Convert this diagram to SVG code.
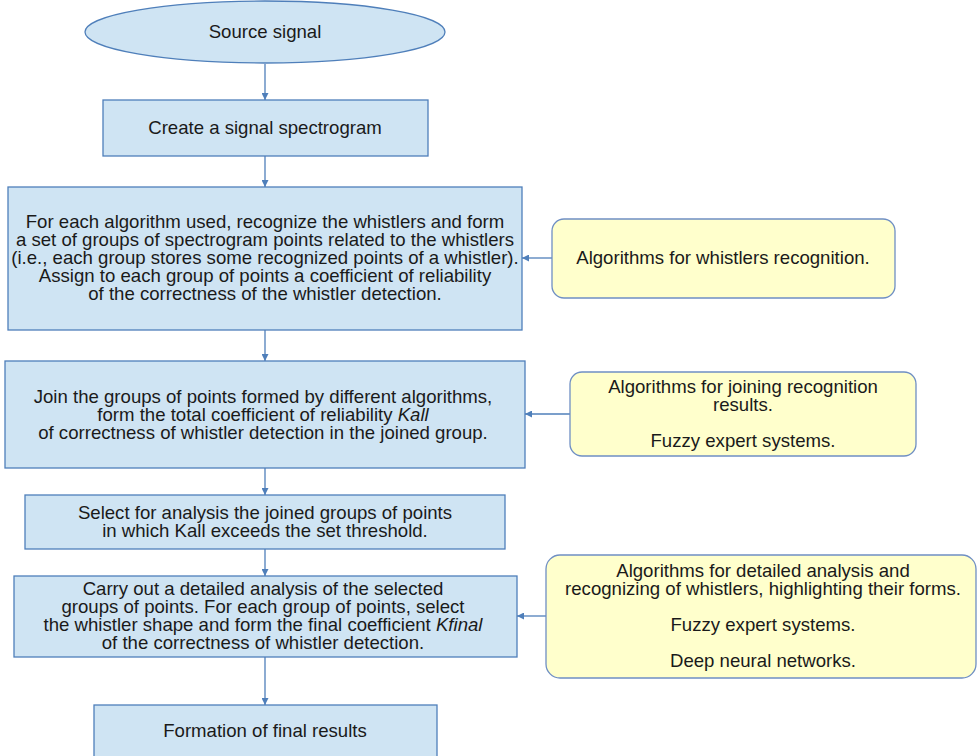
<svg xmlns="http://www.w3.org/2000/svg" width="977" height="756" viewBox="0 0 977 756">
<style>
.b{fill:#cfe4f3;stroke:#4f7fba;stroke-width:1.3}
.y{fill:#ffffcc;stroke:#6f8fc4;stroke-width:1.3}
text{font-family:"Liberation Sans",Arial,sans-serif;font-size:18.6px;fill:#1a1a1a;text-anchor:middle;dominant-baseline:central}
.c{stroke:#4f7fba;stroke-width:1.3;fill:none;marker-end:url(#a)}
</style>
<defs>
<marker id="a" viewBox="0 0 8 8" refX="8" refY="4" markerWidth="7" markerHeight="7" markerUnits="userSpaceOnUse" orient="auto">
<path d="M0,0 L8,4 L0,8 z" fill="#4f7fba"/>
</marker>
</defs>
<rect width="977" height="756" fill="#ffffff"/>
<g id="connectors">
<line class="c" x1="265" y1="64" x2="265" y2="100"/>
<line class="c" x1="265" y1="156" x2="265" y2="187"/>
<line class="c" x1="265" y1="330" x2="265" y2="361"/>
<line class="c" x1="265" y1="468" x2="265" y2="495"/>
<line class="c" x1="265" y1="549" x2="265" y2="576"/>
<line class="c" x1="265" y1="657" x2="265" y2="705"/>
<line class="c" x1="552" y1="258" x2="522" y2="258"/>
<line class="c" x1="570" y1="414" x2="525" y2="414"/>
<line class="c" x1="546" y1="616" x2="517" y2="616"/>
</g>
<g id="source">
<ellipse class="b" cx="265" cy="32" rx="180" ry="31"/>
<text x="265" y="31">Source signal</text>
</g>
<g id="spectrogram">
<rect class="b" x="103" y="100" width="325" height="56"/>
<text x="265" y="127">Create a signal spectrogram</text>
</g>
<g id="recognize">
<rect class="b" x="8" y="187" width="514" height="143"/>
<text x="265" y="221">For each algorithm used, recognize the whistlers and form</text>
<text x="265" y="239">a set of groups of spectrogram points related to the whistlers</text>
<text x="265" y="257">(i.e., each group stores some recognized points of a whistler).</text>
<text x="265" y="275">Assign to each group of points a coefficient of reliability</text>
<text x="265" y="293">of the correctness of the whistler detection.</text>
</g>
<g id="join">
<rect class="b" x="5" y="361" width="520" height="107"/>
<text x="263" y="396">Join the groups of points formed by different algorithms,</text>
<text x="263" y="414">form the total coefficient of reliability <tspan font-style="italic">Kall</tspan></text>
<text x="263" y="432">of correctness of whistler detection in the joined group.</text>
</g>
<g id="select">
<rect class="b" x="25" y="495" width="480" height="54"/>
<text x="265" y="512">Select for analysis the joined groups of points</text>
<text x="265" y="530">in which Kall exceeds the set threshold.</text>
</g>
<g id="analysis">
<rect class="b" x="14" y="576" width="503" height="81"/>
<text x="263" y="588">Carry out a detailed analysis of the selected</text>
<text x="263" y="606">groups of points. For each group of points, select</text>
<text x="263" y="624">the whistler shape and form the final coefficient <tspan font-style="italic">Kfinal</tspan></text>
<text x="263" y="642">of the correctness of whistler detection.</text>
</g>
<g id="final">
<rect class="b" x="94" y="705" width="343" height="60"/>
<text x="265" y="730">Formation of final results</text>
</g>
<g id="alg1">
<rect class="y" x="552" y="219" width="343" height="79" rx="12"/>
<text x="723" y="257">Algorithms for whistlers recognition.</text>
</g>
<g id="alg2">
<rect class="y" x="570" y="372" width="346" height="84" rx="12"/>
<text x="743" y="386">Algorithms for joining recognition</text>
<text x="743" y="404">results.</text>
<text x="743" y="440">Fuzzy expert systems.</text>
</g>
<g id="alg3">
<rect class="y" x="546" y="555" width="430" height="123" rx="14"/>
<text x="763" y="570">Algorithms for detailed analysis and</text>
<text x="763" y="588">recognizing of whistlers, highlighting their forms.</text>
<text x="763" y="624">Fuzzy expert systems.</text>
<text x="763" y="660">Deep neural networks.</text>
</g>
</svg>
